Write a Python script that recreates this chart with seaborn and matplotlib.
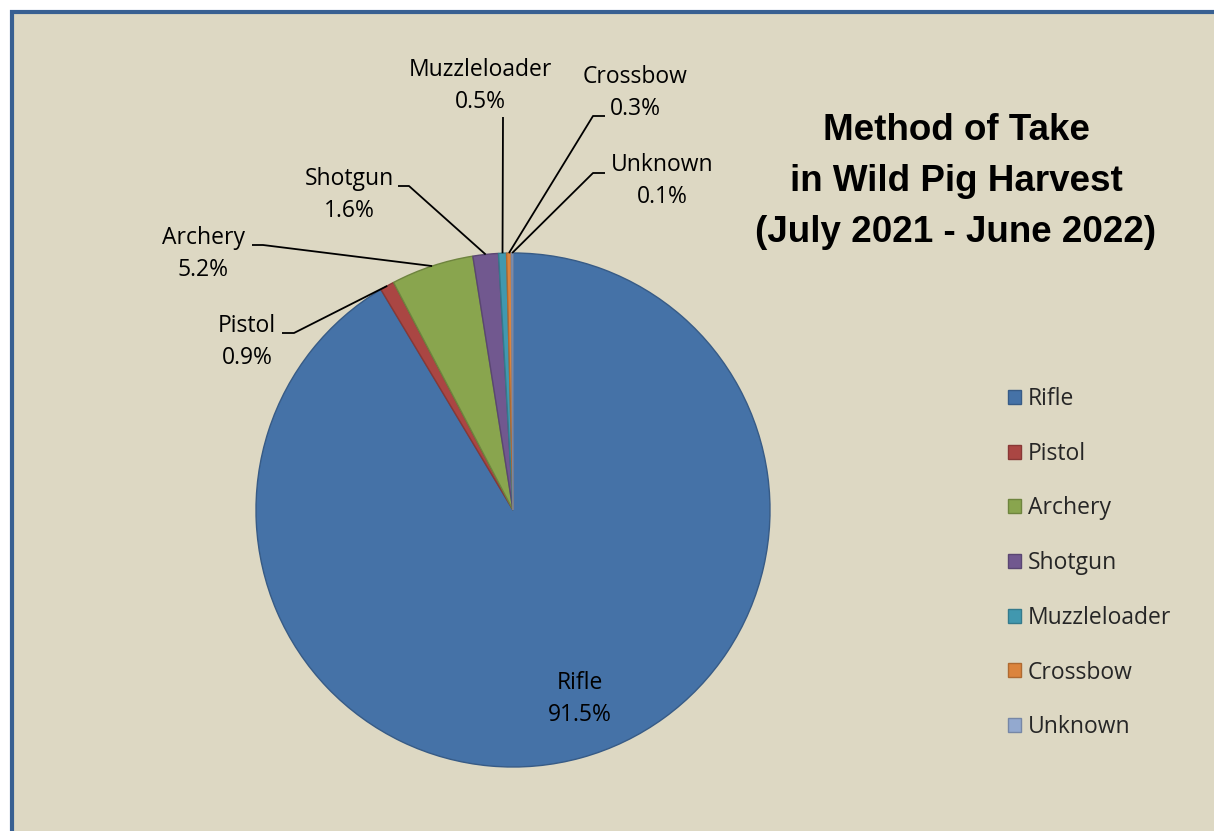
import numpy as np
import matplotlib
matplotlib.use("Agg")
import matplotlib.pyplot as plt
import seaborn as sns
from matplotlib.patches import Rectangle, Patch
from matplotlib.colors import to_rgb

# ---------------- data ----------------
methods = ["Rifle", "Pistol", "Archery", "Shotgun", "Muzzleloader", "Crossbow", "Unknown"]
shares = [91.5, 0.9, 5.2, 1.6, 0.5, 0.3, 0.1]
title_lines = ["Method of Take", "in Wild Pig Harvest", "(July 2021 - June 2022)"]

# ---------------- style ----------------
colors = ["#4572A7", "#AA4643", "#89A54E", "#71588F", "#4198AF", "#DB843D", "#93A9CF"]
bg = "#DDD8C3"
frame_blue = "#386092"

sns.set_theme(style="white")
palette = sns.color_palette(colors)
plt.rcParams["font.family"] = ["Open Sans", "DejaVu Sans"]

W, H = 1214, 831
fig = plt.figure(figsize=(W / 100, H / 100), dpi=100)
fig.patch.set_facecolor("white")

# outer frame (cropped on right / bottom)
fig.add_artist(Rectangle((11.5 / W, -0.1), 2.0, (H - 11.5) / H + 0.1,
                         transform=fig.transFigure, facecolor=bg,
                         edgecolor=frame_blue, linewidth=3, zorder=0))

cx, cy, R = 513, 510, 257          # pie centre / radius in pixels


def P(px, py):
    return ((px - cx) / R, (cy - py) / R)


ax = fig.add_axes([0, 0, 1, 1])
ax.set_facecolor("none")

darker = [tuple(np.array(to_rgb(c)) * 0.8) for c in palette]
wedges, _ = ax.pie(shares, colors=palette, startangle=90, counterclock=False,
                   radius=1, center=(0, 0),
                   wedgeprops=dict(linewidth=1.0))
for w, ec in zip(wedges, darker):
    w.set_edgecolor(ec)

ax.set_aspect("auto")
ax.set_xlim(-cx / R, (W - cx) / R)
ax.set_ylim((cy - H) / R, cy / R)
ax.axis("off")

# ---------------- labels ----------------
fs = 16.5
# label layout: text centre (px), leader polyline points (px) before the wedge point
layout = {
    "Rifle": ((580, 683), None),
    "Pistol": ((247, 326), [(282, 333), (294, 333)]),
    "Archery": ((203, 238), [(252, 245), (263, 245)]),
    "Shotgun": ((349, 179), [(398, 186), (409, 186)]),
    "Muzzleloader": ((480, 70), [(503, 117)]),
    "Crossbow": ((635, 77), [(605, 116), (593, 116)]),
    "Unknown": ((662, 165), [(605, 173), (593, 173)]),
}
for name, val, w in zip(methods, shares, wedges):
    (tx, ty), pts = layout[name]
    x, y = P(tx, ty)
    ax.text(x, y, name, ha="center", va="center", fontsize=fs, color="black")
    x2, y2 = P(tx, ty + 32)
    ax.text(x2, y2, f"{val:.1f}%", ha="center", va="center", fontsize=fs, color="black")
    if pts:
        th = np.deg2rad((w.theta1 + w.theta2) / 2)
        xs = [P(*p)[0] for p in pts] + [np.cos(th)]
        ys = [P(*p)[1] for p in pts] + [np.sin(th)]
        ax.plot(xs, ys, color="black", lw=1.3, solid_capstyle="butt")

# ---------------- title ----------------
for i, line in enumerate(title_lines):
    fig.text(956 / W, 1 - (130 + 51.5 * i) / H, line, ha="center", va="center",
             fontsize=26.5, fontweight="bold", family="Liberation Sans", color="black")

# ---------------- legend ----------------
handles = [Patch(facecolor=c, edgecolor=e, linewidth=1) for c, e in zip(palette, darker)]
fig.legend(handles, methods, loc="upper left", bbox_to_anchor=(1008 / W, 1 - 387 / H),
           frameon=False, fontsize=fs, borderpad=0, labelspacing=1.34,
           handlelength=0.57, handleheight=0.57, handletextpad=0.3, borderaxespad=0)

fig.savefig("out.png", dpi=100, facecolor=fig.get_facecolor())
